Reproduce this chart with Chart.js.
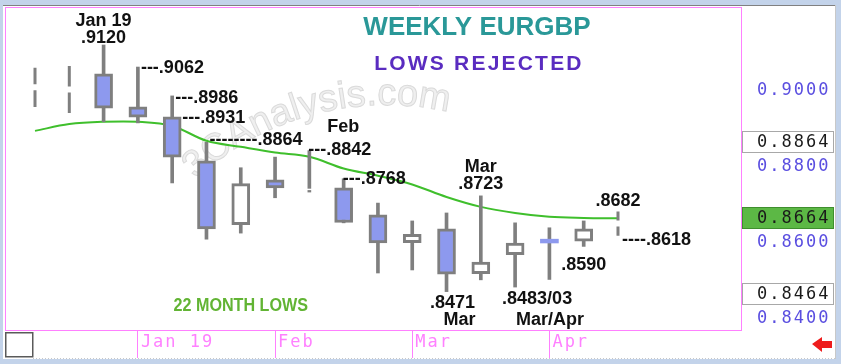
<!DOCTYPE html>
<html>
<head>
<meta charset="utf-8">
<script src="https://cdn.jsdelivr.net/npm/chart.js@4.4.1/dist/chart.umd.min.js"></script>
<style>
  html, body { margin: 0; padding: 0; background: #c3d3ea; }
</style>
</head>
<body>
<canvas id="chart" width="841" height="364"></canvas>
<script>
// Weekly candles, index 0 = first visible week (null open/close = partial week, drawn dashed)
const weeks  = [0, 1, 2, 3, 4, 5, 6, 7, 8, 9, 10, 11, 12, 13, 14, 15, 16, 17];
const opens  = [null, null, 0.9044, 0.8957, 0.8931, 0.8815, 0.8647, 0.8765, 0.8739, 0.8744, 0.8673, 0.8600, 0.8636, 0.8518, 0.8568, 0.8609, 0.8604, null];
const highs  = [0.9060, 0.9065, 0.9120, 0.9062, 0.8986, 0.8864, 0.8797, 0.8825, 0.8842, 0.8768, 0.8704, 0.8657, 0.8678, 0.8723, 0.8652, 0.8639, 0.8657, 0.8682];
const lows   = [0.8957, 0.8941, 0.8918, 0.8915, 0.8757, 0.8609, 0.8625, 0.8718, 0.8733, 0.8652, 0.8520, 0.8528, 0.8471, 0.8502, 0.8483, 0.8503, 0.8590, 0.8618];
const closes = [null, null, 0.8954, 0.8930, 0.8825, 0.8636, 0.8755, 0.8744, 0.8741, 0.8653, 0.8599, 0.8622, 0.8517, 0.8549, 0.8599, 0.8599, 0.8636, null];
const movingAvg = [0.8894, 0.8912, 0.8918, 0.8918, 0.8907, 0.8868, 0.8852, 0.8837, 0.8826, 0.8795, 0.8776, 0.8753, 0.8720, 0.8694, 0.8678, 0.8668, 0.8665, 0.8664];

const monthTicks  = [3, 7, 11, 15];
const monthLabels = ['Jan 19', 'Feb', 'Mar', 'Apr'];
const priceTicks  = [0.84, 0.86, 0.88, 0.90];
const markerPrices = [0.8864, 0.8664, 0.8464];

const titleText = 'WEEKLY EURGBP';
const subtitleText = 'LOWS REJECTED';
const lowsNote = [6, 0.8440, '22 MONTH LOWS'];
const watermark = '3CAnalysis.com';

const noteWeeks  = [2, 2, 3, 4, 4, 5, 8, 8, 9, 13, 13, 17, 17, 16, 12, 12, 14, 14];
const notePrices = [0.9120, 0.9120, 0.9062, 0.8986, 0.8931, 0.8864, 0.8842, 0.8842, 0.8768, 0.8723, 0.8723, 0.8682, 0.8618, 0.8590, 0.8471, 0.8471, 0.8483, 0.8483];
const noteTexts  = ['Jan 19', '.9120', '---.9062', '---.8986', '---.8931', '--------.8864', 'Feb', '---.8842', '---.8768',
                    'Mar', '.8723', '.8682', '----.8618', '.8590', '.8471', 'Mar', '.8483/03', 'Mar/Apr'];
// where each note sits relative to its anchor: dx, dy, align
const noteOffsets = [[0, -25, 'center'], [0, -8, 'center'], [3, 0, 'left'], [3, 1, 'left'], [10, 0, 'left'], [3, -3, 'left'],
                     [34, -25, 'center'], [-1, -2, 'left'], [-1, -1, 'left'], [0, -30, 'center'], [0, -13, 'center'],
                     [0, -11, 'center'], [4, 3, 'left'], [0, 18, 'center'], [6, 10, 'center'], [13, 27, 'center'],
                     [22, 11, 'center'], [35, 32, 'center']];

const PINK = '#ff80ff';
const GREY = '#7f7f7f';
const BEAR = '#8d99ee';
const BULL = '#ffffff';
const MONO = '"DejaVu Sans Mono", monospace';
const AXIS_FONT = { family: MONO, size: 17 };
const SPACING = '2px';

const fullWeeks = weeks.filter(i => opens[i] !== null);
const partWeeks = weeks.filter(i => opens[i] === null);

const wickData = fullWeeks.map(i => ({ x: i, y: [lows[i], highs[i]] }));
const bodyData = fullWeeks.map(i => ({ x: i, y: [opens[i], closes[i]] }));
const bodyFill = fullWeeks.map(i => closes[i] >= opens[i] ? BULL : BEAR);
const bodyEdge = fullWeeks.map(i => Math.abs(closes[i] - opens[i]) < 0.0012 ? 0 : 3);
const maData = movingAvg.map((v, i) => ({ x: weeks[i], y: v }));

// partial weeks: one dashed range each, split into two dashes with a gap
const partSets = partWeeks.map(i => ({
    type: 'line',
    data: [{ x: i, y: highs[i] }, { x: i, y: lows[i] }],
    borderColor: GREY, borderWidth: 3, pointRadius: 0, borderCapStyle: 'butt', order: 2,
    borderDash: c => {
        const s = c.chart.scales.y;
        const len = Math.abs(s.getPixelForValue(lows[i]) - s.getPixelForValue(highs[i]));
        return [Math.max((len - 6) / 2, 1), 6];
    }
}));

const decor = {
    id: 'decor',
    beforeDraw(chart) {
        const { ctx } = chart;
        ctx.save();
        ctx.fillStyle = '#c3d3ea';
        ctx.fillRect(0, 0, chart.width, chart.height);
        ctx.fillStyle = '#ffffff';
        ctx.fillRect(3, 5, 833, 354);
        ctx.strokeStyle = '#808080';
        ctx.lineWidth = 1;
        ctx.beginPath();
        ctx.moveTo(3, 5.5); ctx.lineTo(836, 5.5);
        ctx.stroke();
        ctx.strokeStyle = '#c8c8c8';
        ctx.beginPath();
        ctx.moveTo(835.5, 5); ctx.lineTo(835.5, 359);
        ctx.stroke();
        ctx.setLineDash([1, 2]);
        ctx.beginPath();
        ctx.moveTo(33, 358.5); ctx.lineTo(836, 358.5);
        ctx.stroke();
        ctx.restore();
        // axis text is wide-set
        ctx.letterSpacing = SPACING;
    },
    beforeDatasetsDraw(chart) {
        const { ctx, chartArea: ca } = chart;
        ctx.save();
        ctx.letterSpacing = '0px';
        ctx.font = '38px "Liberation Sans", Arial, sans-serif';
        ctx.fillStyle = '#efefef';
        ctx.strokeStyle = '#dadada';
        ctx.lineWidth = 1;
        const cx = ca.left + 381, cy = ca.top + 379, r = 281;
        let a = -132.7 * Math.PI / 180;
        for (const ch of watermark) {
            const w = ctx.measureText(ch).width;
            const mid = a + (w / 2) / r;
            ctx.save();
            ctx.translate(cx + r * Math.cos(mid), cy + r * Math.sin(mid));
            ctx.rotate(mid + Math.PI / 2);
            ctx.textAlign = 'center';
            ctx.fillText(ch, 0, 0);
            ctx.strokeText(ch, 0, 0);
            ctx.restore();
            a += w / r;
        }
        ctx.restore();
    },
    afterDraw(chart) {
        const { ctx, chartArea: ca, scales: { x, y } } = chart;
        ctx.save();
        ctx.letterSpacing = '0px';

        // plot frame
        ctx.strokeStyle = PINK;
        ctx.lineWidth = 1;
        ctx.strokeRect(ca.left + 0.5, ca.top + 0.5, ca.right - ca.left, ca.bottom - ca.top);

        // titles
        const midX = ca.left + 472;
        ctx.textBaseline = 'middle';
        ctx.textAlign = 'center';
        ctx.font = 'bold 26px "Liberation Sans", Arial, sans-serif';
        ctx.fillStyle = '#2a9898';
        ctx.fillText(titleText, midX, ca.top + 21);
        ctx.save();
        ctx.letterSpacing = '2.2px';
        ctx.font = 'bold 21px "Liberation Sans", Arial, sans-serif';
        ctx.fillStyle = '#5a2cc0';
        ctx.fillText(subtitleText, midX + 2, ca.top + 57.5);
        ctx.restore();

        // price notes
        ctx.font = 'bold 18px "Liberation Sans", Arial, sans-serif';
        ctx.fillStyle = '#111111';
        noteTexts.forEach((t, k) => {
            const [dx, dy, al] = noteOffsets[k];
            ctx.textAlign = al;
            ctx.fillText(t, x.getPixelForValue(noteWeeks[k]) + dx, y.getPixelForValue(notePrices[k]) + dy + 1);
        });

        // 22 month lows
        ctx.save();
        ctx.translate(x.getPixelForValue(lowsNote[0]), y.getPixelForValue(lowsNote[1]) + 2);
        ctx.scale(0.85, 1);
        ctx.textAlign = 'center';
        ctx.font = 'bold 19px "Liberation Sans", Arial, sans-serif';
        ctx.fillStyle = '#62b434';
        ctx.fillText(lowsNote[2], 0, 0);
        ctx.restore();

        // price markers on the right axis
        ctx.font = '17px ' + MONO;
        ctx.letterSpacing = SPACING;
        ctx.textAlign = 'left';
        markerPrices.forEach((p, k) => {
            const py = Math.round(y.getPixelForValue(p));
            const green = k === 1;
            ctx.fillStyle = green ? '#5cb845' : '#ffffff';
            ctx.fillRect(742, py - 11, 92, 22);
            ctx.strokeStyle = green ? '#3f8f2e' : '#a8a8a8';
            ctx.strokeRect(742.5, py - 10.5, 91, 21);
            ctx.fillStyle = '#1a1a1a';
            ctx.fillText(p.toFixed(4), 757, py + 1);
        });

        // corner box and red arrow in the bottom strip
        ctx.letterSpacing = '0px';
        ctx.strokeStyle = '#5a5a5a';
        ctx.lineWidth = 1.5;
        ctx.strokeRect(5.75, 332.75, 27, 24);
        ctx.fillStyle = '#ee1c1c';
        ctx.beginPath();
        ctx.moveTo(812, 344);
        ctx.lineTo(822, 337);
        ctx.lineTo(822, 341);
        ctx.lineTo(832, 341);
        ctx.lineTo(832, 348);
        ctx.lineTo(822, 348);
        ctx.lineTo(822, 352);
        ctx.closePath();
        ctx.fill();
        ctx.restore();
    }
};

new Chart(document.getElementById('chart'), {
    type: 'bar',
    data: {
        datasets: [
            { type: 'line', data: maData, borderColor: '#3fbf2c', borderWidth: 2, pointRadius: 0, tension: 0.35, order: 3 },
            ...partSets,
            { data: wickData, backgroundColor: GREY, borderWidth: 0, barThickness: 3, grouped: false, order: 2 },
            {
                data: bodyData, backgroundColor: bodyFill, borderColor: GREY, borderWidth: bodyEdge,
                borderSkipped: false, barThickness: 18, grouped: false, order: 1
            }
        ]
    },
    options: {
        responsive: false,
        animation: false,
        layout: { padding: { left: 5, top: 7, right: 8, bottom: 6 } },
        plugins: { legend: { display: false }, tooltip: { enabled: false }, title: { display: false } },
        scales: {
            x: {
                type: 'linear',
                min: -0.875,
                max: 20.587,
                offset: false,
                afterBuildTicks: s => { s.ticks = monthTicks.map(v => ({ value: v })); },
                afterFit: s => { s.height = 28; s.paddingLeft = 0; s.paddingRight = 0; },
                grid: { drawOnChartArea: false, offset: false, color: PINK, tickLength: 28, lineWidth: 1 },
                border: { display: true, color: PINK },
                ticks: {
                    align: 'start', labelOffset: 3, padding: -26, color: PINK, font: AXIS_FONT,
                    maxRotation: 0, autoSkip: false,
                    callback: (v, i) => monthLabels[i]
                }
            },
            y: {
                position: 'right',
                min: 0.837,
                max: 0.922,
                beginAtZero: false,
                afterBuildTicks: s => { s.ticks = priceTicks.map(v => ({ value: v })); },
                afterFit: s => { s.width = 92; s.paddingTop = 0; s.paddingBottom = 0; },
                grid: { display: false, drawTicks: false },
                border: { display: true, color: PINK },
                ticks: {
                    crossAlign: 'near', padding: 16, color: '#5a4ee0', font: AXIS_FONT,
                    callback: v => Number(v).toFixed(4)
                }
            }
        }
    },
    plugins: [decor]
});
</script>
</body>
</html>
